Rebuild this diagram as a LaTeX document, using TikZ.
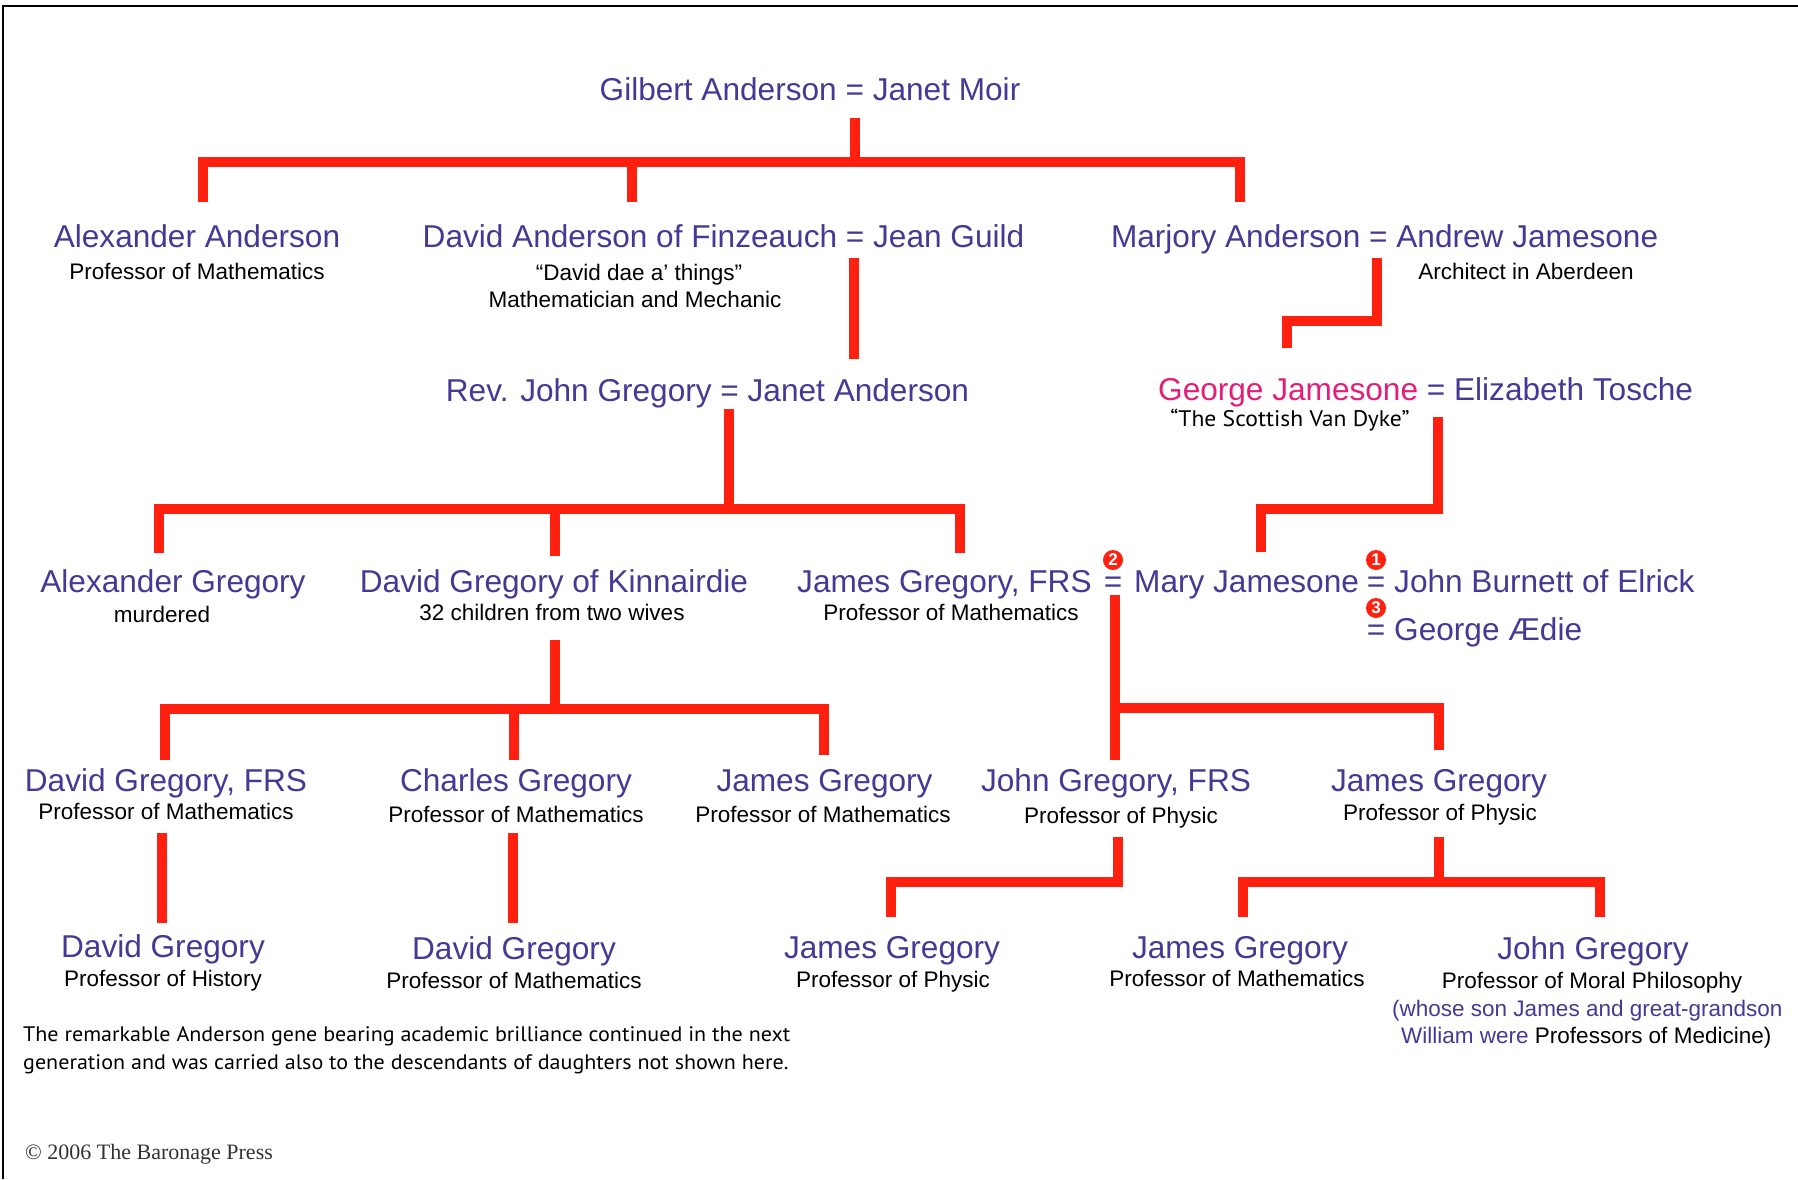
\documentclass[tikz,border=0pt]{standalone}
\usepackage{fontspec}
\setmainfont{Liberation Sans}
\newfontfamily\arialf{Liberation Sans}
\newfontfamily\myriadf[FakeStretch=1.05]{PT Sans}
\newfontfamily\timesf{Liberation Serif}
\definecolor{namec}{RGB}{68,58,150}
\definecolor{georgec}{RGB}{228,30,120}
\definecolor{linec}{RGB}{255,32,16}
\begin{document}
\begin{tikzpicture}[x=1pt,y=-1pt,
  pname/.style={font=\arialf\fontsize{31.6}{38}\selectfont, text=namec, anchor=base, inner sep=0pt},
  psub/.style={font=\arialf\fontsize{22.5}{27}\selectfont, text=black, anchor=base, inner sep=0pt},
  pnote/.style={font=\myriadf\fontsize{21}{25}\selectfont, text=black, anchor=base west, inner sep=0pt},
  bar/.style={draw=linec, line width=10pt, line join=miter, line cap=butt},
  num/.style={circle, fill=linec, text=white, inner sep=0pt, minimum size=20pt, font=\arialf\bfseries\fontsize{17}{17}\selectfont},
]
\useasboundingbox (0,0) rectangle (1798,1179);
\clip (0,0) rectangle (1798,1179);
\fill[white] (0,0) rectangle (1798,1179);
\draw[line width=2.5pt] (3,1179) -- (3,6) -- (1798,6);

% ---------- nodes ----------
\node[pname] (gilbert) at (810,100) {Gilbert Anderson = Janet Moir};

\node[pname] (alexA) at (197,247) {Alexander Anderson};
\node[psub] (alexAs) at (197,279) {Professor of Mathematics};
\node[pname] (davidA) at (723.5,247) {David Anderson of Finzeauch = Jean Guild};
\node[psub] (davidAs1) at (639,280) {“David dae a’ things”};
\node[psub] (davidAs2) at (635,307) {Mathematician and Mechanic};
\node[pname] (marjory) at (1384.6,247) {Marjory Anderson = Andrew Jamesone};
\node[psub] (marjorys) at (1526,279) {Architect in Aberdeen};

\node[pname] (revjohn) at (707.5,401) {Rev. John Gregory = Janet Anderson};
\node[pname] (george) at (1425.6,400) {\textcolor{georgec}{George Jamesone} = Elizabeth Tosche};
\node[pnote, anchor=base, font=\myriadf\fontsize{22.5}{26}\selectfont] (georges) at (1290,426) {“The Scottish Van Dyke”};

\node[pname] (alexG) at (173,592) {Alexander Gregory};
\node[psub] (alexGs) at (162,622) {murdered};
\node[pname] (davidK) at (554,592) {David Gregory of Kinnairdie};
\node[psub] (davidKs) at (552,620) {32 children from two wives};
\node[pname, anchor=base west] (jamesF) at (797,592) {James Gregory, FRS};
\node[psub] (jamesFs) at (951,620) {Professor of Mathematics};
\node[pname] (eqB) at (1113,592) {=};
\node[pname, anchor=base west] (mary) at (1134,592) {Mary Jamesone};
\node[pname] (eqA) at (1376,592) {=};
\node[pname, anchor=base west] (burnett) at (1394,592) {John Burnett of Elrick};
\node[pname] (eqC) at (1376,640) {=};
\node[pname, anchor=base west] (aedie) at (1394,640) {George Ædie};
\node[num] (n2) at (1113,560) {2};
\node[num] (n1) at (1376,560) {1};
\node[num] (n3) at (1376,608) {3};

\node[pname] (davidF) at (166,791) {David Gregory, FRS};
\node[psub] (davidFs) at (166,819) {Professor of Mathematics};
\node[pname] (charles) at (516,791) {Charles Gregory};
\node[psub] (charless) at (516,822) {Professor of Mathematics};
\node[pname] (jamesM) at (824.5,791) {James Gregory};
\node[psub] (jamesMs) at (823,822) {Professor of Mathematics};
\node[pname] (johnF) at (1116,791) {John Gregory, FRS};
\node[psub] (johnFs) at (1121,823) {Professor of Physic};
\node[pname] (jamesP) at (1439,791) {James Gregory};
\node[psub] (jamesPs) at (1440,820) {Professor of Physic};

\node[pname] (davidH) at (163,957) {David Gregory};
\node[psub] (davidHs) at (163,986) {Professor of History};
\node[pname] (davidM) at (514,959) {David Gregory};
\node[psub] (davidMs) at (514,988) {Professor of Mathematics};
\node[pname] (jamesPP) at (892,958) {James Gregory};
\node[psub] (jamesPPs) at (893,987) {Professor of Physic};
\node[pname] (jamesMM) at (1240,958) {James Gregory};
\node[psub] (jamesMMs) at (1237,986) {Professor of Mathematics};
\node[pname] (johnM) at (1593,959) {John Gregory};
\node[psub] (johnMs) at (1592,988) {Professor of Moral Philosophy};
\node[psub, anchor=base west, text=namec] (johnMs2) at (1392,1016) {(whose son James and great-grandson};
\node[psub, anchor=base west] (johnMs3) at (1401,1043) {\textcolor{namec}{William were} Professors of Medicine)};

\node[pnote] (note1) at (23,1041) {The remarkable Anderson gene bearing academic brilliance continued in the next};
\node[pnote] (note2) at (23,1069) {generation and was carried also to the descendants of daughters not shown here.};
\node[font=\timesf\fontsize{22}{26}\selectfont, anchor=base west, inner sep=0pt, text=black!80] (copy) at (25,1159) {© 2006 The Baronage Press};

% ---------- connectors ----------
\coordinate (b1top) at (855,118);
\coordinate (b1mid) at (855,162);
\coordinate (b1L) at (203,202);
\coordinate (b1C) at (632,202);
\coordinate (b1R) at (1240,202);
\draw[bar] (b1L) |- (b1mid) -| (b1R);
\draw[bar] (b1top) -- (b1mid);
\draw[bar] (b1C) -- (b1C |- b1mid);

\coordinate (b2top) at (854,258);
\coordinate (b2bot) at (854,359);
\draw[bar] (b2top) -- (b2bot);

\coordinate (m0) at (1377,258);
\coordinate (mj) at (1377,321);
\coordinate (m1) at (1287,348);
\draw[bar] (m0) -- (mj) -| (m1);

\coordinate (r0) at (729,409);
\coordinate (r1) at (729,509);
\coordinate (rL) at (159,553);
\coordinate (rC) at (555,556);
\coordinate (rR) at (960,553);
\draw[bar] (rL) |- (r1) -| (rR);
\draw[bar] (r0) -- (r1);
\draw[bar] (rC) -- (rC |- r1);

\coordinate (gj0) at (1438,417);
\coordinate (gj1) at (1438,509);
\coordinate (gj2) at (1261,552);
\draw[bar] (gj0) -- (gj1) -| (gj2);

\coordinate (k0) at (555,640);
\coordinate (k1) at (555,709);
\coordinate (kL) at (165,760);
\coordinate (kC) at (514,760);
\coordinate (kR) at (824,755);
\draw[bar] (kL) |- (k1) -| (kR);
\draw[bar] (k0) -- (k1);
\draw[bar] (kC) -- (kC |- k1);

\coordinate (mj0) at (1115,595);
\coordinate (mj1) at (1115,760);
\coordinate (mjj) at (1115,708);
\coordinate (mjR) at (1439,750);
\draw[bar] (mj0) -- (mj1);
\draw[bar] (mjj) -| (mjR);

\coordinate (d0) at (162,833);
\coordinate (d1) at (162,923);
\draw[bar] (d0) -- (d1);
\coordinate (c0) at (513,833);
\coordinate (c1) at (513,923);
\draw[bar] (c0) -- (c1);

\coordinate (jf0) at (1118,837);
\coordinate (jf1) at (1118,882);
\coordinate (jf2) at (891,917);
\draw[bar] (jf0) -- (jf1) -| (jf2);

\coordinate (jp0) at (1439,837);
\coordinate (jp1) at (1439,882);
\coordinate (jpL) at (1243,917);
\coordinate (jpR) at (1600,917);
\draw[bar] (jp0) -- (jp1);
\draw[bar] (jpL) |- (jp1) -| (jpR);
\end{tikzpicture}
\end{document}
